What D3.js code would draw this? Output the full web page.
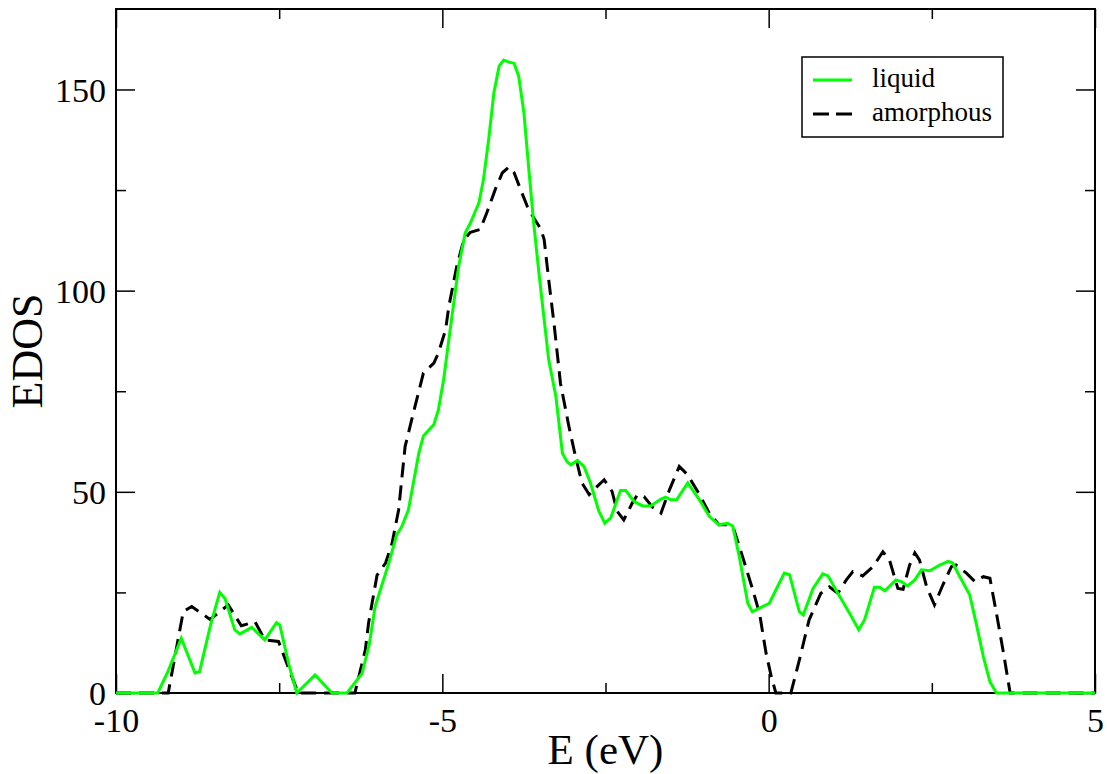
<!DOCTYPE html>
<html>
<head>
<meta charset="utf-8">
<script src="https://cdn.jsdelivr.net/npm/d3@7"></script>
<style>
  body { margin: 0; background: #fff; }
  text { font-family: "Liberation Serif", "Times New Roman", serif; fill: #000; }
  .axis path.domain { display: none; }
  .axis line { stroke: #000; stroke-width: 1.5; }
</style>
</head>
<body>
<script>
/* series: energy (eV) and EDOS */
var liquidE = [-10, -9.36, -9.2, -9.0, -8.79, -8.72, -8.55, -8.41, -8.33, -8.18, -8.10, -7.92,
  -7.72, -7.54, -7.49, -7.35, -7.23, -6.95, -6.69, -6.46, -6.23, -6.12, -6.03, -5.82, -5.70,
  -5.62, -5.52, -5.36, -5.29, -5.13, -5.06, -4.98, -4.88, -4.75, -4.65, -4.57, -4.44, -4.37,
  -4.29, -4.21, -4.13, -4.06, -3.98, -3.90, -3.83, -3.75, -3.67, -3.60, -3.52, -3.44, -3.37,
  -3.26, -3.16, -3.09, -3.03, -2.93, -2.83, -2.73, -2.60, -2.51, -2.42, -2.27, -2.19, -2.06,
  -1.93, -1.81, -1.65, -1.58, -1.50, -1.41, -1.24, -1.06, -0.91, -0.76, -0.63, -0.55, -0.45,
  -0.32, -0.25, -0.14, 0.01, 0.11, 0.24, 0.32, 0.47, 0.53, 0.68, 0.83, 0.91, 1.06, 1.24,
  1.38, 1.47, 1.62, 1.70, 1.78, 1.95, 2.03, 2.13, 2.24, 2.34, 2.47, 2.62, 2.75, 2.82, 2.93,
  3.08, 3.18, 3.29, 3.39, 3.49, 5]
var liquidDOS = [0, 0, 5.5, 13.6, 5.0, 5.3, 17, 25.0, 23.5, 15.7, 14.7, 16.3,
  13.2, 17.5, 16.9, 7, 0, 4.5, 0, 0, 4.9, 12, 21.5, 32.3, 39.3,
  41.4, 45.5, 59.6, 63.9, 66.7, 70.4, 77.9, 90.3, 106, 114.3, 116.8, 121.8, 127.6,
  137.6, 149.2, 155.8, 157.3, 156.8, 156.5, 153.3, 144.2, 129.3, 116.8, 104.4, 92.8, 82.8,
  73.7, 59.6, 57.5, 56.7, 57.8, 56.3, 52.2, 45.1, 42.2, 43.5, 50.3, 50.3, 47.6,
  46.5, 46.5, 48.2, 48.7, 48.0, 48.0, 52.2, 48.0, 43.9, 41.8, 42.2, 41.5, 33.9,
  22.3, 20.2, 21.1, 22.3, 25.6, 29.8, 29.4, 20.2, 19.4, 26.0, 29.6, 29.1, 24.8, 19.8,
  15.7, 18.2, 26.3, 26.3, 25.4, 28.1, 27.7, 26.6, 28.1, 30.6, 30.4, 31.8, 32.7, 32.3, 28.9,
  24.4, 17.3, 9.0, 2.8, 0, 0]

var amorphE = [-10, -9.20, -8.97, -8.84, -8.56, -8.41, -8.28, -8.08, -7.87, -7.72, -7.51, -7.21,
  -6.34, -6.18, -6.13, -6.00, -5.87, -5.77, -5.67, -5.57, -5.47, -5.29, -5.13, -5.06, -4.95,
  -4.90, -4.78, -4.67, -4.57, -4.42, -4.32, -4.19, -4.08, -3.98, -3.90, -3.80, -3.70, -3.60,
  -3.49, -3.44, -3.37, -3.29, -3.19, -3.06, -2.96, -2.86, -2.75, -2.63, -2.52, -2.40, -2.32,
  -2.22, -2.09, -2.01, -1.91, -1.78, -1.65, -1.52, -1.37, -1.24, -1.06, -0.91, -0.76, -0.63,
  -0.53, -0.40, -0.25, -0.14, -0.04, 0.04, 0.11, 0.34, 0.47, 0.62, 0.80, 0.93, 1.06, 1.19,
  1.29, 1.44, 1.60, 1.75, 1.85, 1.98, 2.06, 2.16, 2.24, 2.31, 2.42, 2.54, 2.67, 2.80, 2.87,
  3.03, 3.16, 3.29, 3.39, 3.49, 3.59, 3.70, 5]
var amorphDOS = [0, 0, 20.2, 21.5, 18.3, 20.2, 21.9, 16.7, 17.7, 13.2, 12.8, 0,
  0, 10.7, 17.4, 29.3, 32.3, 37.2, 45.5, 61.3, 67.9, 79.5, 82.0, 84.5, 90.3,
  96.1, 106.0, 112.7, 114.5, 115.2, 119.3, 125.1, 129.3, 130.7, 129.3, 125.1, 121.0, 118.1,
  115.3, 112.7, 102.7, 92.0, 77.0, 66.2, 58.8, 52.2, 49.3, 51.3, 53.0, 50.1, 45.1,
  43.0, 47.2, 49.3, 48.8, 46.2, 44.7, 50.5, 56.3, 54.2, 49.3, 44.7, 41.8, 41.8,
  40.5, 33.9, 26.0, 19.8, 9.9, 4.1, 0, 0, 8.2, 18.2, 24.8, 26.4, 24.8, 28.1,
  30.2, 29.1, 31.4, 35.1, 33.1, 26.0, 25.8, 31.8, 34.8, 33.1, 26.4, 21.9, 26.9, 31.4, 31.8,
  29.8, 27.7, 28.9, 28.5, 19.8, 10.7, 0, 0]

var seriesNames = ["liquid", "amorphous"]
var xMajor = [-10, -5, 0, 5]
var xMinor = [-7.5, -2.5, 2.5]
var yMajor = [0, 50, 100, 150]
var yMinor = [25, 75, 125]


function main()
{
  var vis = {
    width: 1107,
    height: 774,
    margin: {left: 116, top: 9, right: 12, bottom: 81},
    scale: {}
  }
  vis.w = vis.width - vis.margin.left - vis.margin.right
  vis.h = vis.height - vis.margin.top - vis.margin.bottom

  initVis(vis)
  addAxes(vis)
  addLines(vis)
  addLegend(vis)
}


function initVis(vis)
{
  vis.scale.x = d3.scaleLinear()
    .domain([-10, 5])
    .range([0, vis.w])

  vis.scale.y = d3.scaleLinear()
    .domain([0, 170])
    .range([vis.h, 0])

  vis.svg = d3.select("body")
    .append("svg")
    .attr("width", vis.width)
    .attr("height", vis.height)

  vis.g = vis.svg.append("g")
    .attr("transform", "translate(" + vis.margin.left + "," + vis.margin.top + ")")
}


function addAxes(vis)
{
  var g = vis.g
  var fmt = function(d) { return String(d) }

  /* major ticks with labels (bottom, left) */
  g.append("g")
    .attr("class", "axis")
    .attr("transform", "translate(0," + vis.h + ")")
    .call(d3.axisBottom(vis.scale.x).tickValues(xMajor).tickSize(-19).tickFormat(fmt))
    .selectAll("text")
    .attr("y", 39)
    .attr("dy", 0)
    .style("font-size", "34px")

  g.append("g")
    .attr("class", "axis")
    .call(d3.axisLeft(vis.scale.y).tickValues(yMajor).tickSize(-19).tickFormat(fmt))
    .selectAll("text")
    .attr("x", -10)
    .attr("dy", "0.34em")
    .style("font-size", "34px")

  /* mirrored major ticks, no labels (top, right) */
  g.append("g")
    .attr("class", "axis")
    .call(d3.axisTop(vis.scale.x).tickValues(xMajor).tickSize(-19).tickFormat(""))

  g.append("g")
    .attr("class", "axis")
    .attr("transform", "translate(" + vis.w + ",0)")
    .call(d3.axisRight(vis.scale.y).tickValues(yMajor).tickSize(-19).tickFormat(""))

  /* minor ticks on all four sides */
  g.append("g").attr("class", "axis")
    .attr("transform", "translate(0," + vis.h + ")")
    .call(d3.axisBottom(vis.scale.x).tickValues(xMinor).tickSize(-10).tickFormat(""))
  g.append("g").attr("class", "axis")
    .call(d3.axisTop(vis.scale.x).tickValues(xMinor).tickSize(-10).tickFormat(""))
  g.append("g").attr("class", "axis")
    .call(d3.axisLeft(vis.scale.y).tickValues(yMinor).tickSize(-10).tickFormat(""))
  g.append("g").attr("class", "axis")
    .attr("transform", "translate(" + vis.w + ",0)")
    .call(d3.axisRight(vis.scale.y).tickValues(yMinor).tickSize(-10).tickFormat(""))

  /* frame */
  g.append("rect")
    .attr("width", vis.w)
    .attr("height", vis.h)
    .attr("fill", "none")
    .attr("stroke", "#000")
    .attr("stroke-width", 2)

  /* axis titles */
  g.append("text")
    .attr("x", vis.w / 2)
    .attr("y", vis.h + 71)
    .attr("text-anchor", "middle")
    .style("font-size", "43px")
    .text("E (eV)")

  g.append("text")
    .attr("transform", "translate(-74," + (vis.h / 2) + ") rotate(-90)")
    .attr("text-anchor", "middle")
    .style("font-size", "44px")
    .text("EDOS")
}


function addLines(vis)
{
  var line = d3.line()
    .x(function(d) { return vis.scale.x(d[0]) })
    .y(function(d) { return vis.scale.y(d[1]) })

  var amorph = d3.zip(amorphE, amorphDOS)
  var liquid = d3.zip(liquidE, liquidDOS)

  vis.g.append("path")
    .datum(amorph)
    .attr("d", line)
    .attr("fill", "none")
    .attr("stroke", "#000")
    .attr("stroke-width", 3)
    .attr("stroke-dasharray", "15,8")

  vis.g.append("path")
    .datum(liquid)
    .attr("d", line)
    .attr("fill", "none")
    .attr("stroke", "#00ff00")
    .attr("stroke-width", 3)
}


function addLegend(vis)
{
  var lg = vis.svg.append("g")
    .attr("transform", "translate(802,57)")

  lg.append("rect")
    .attr("width", 201)
    .attr("height", 80)
    .attr("fill", "#fff")
    .attr("stroke", "#000")
    .attr("stroke-width", 1.5)

  var styles = [{color: "#00ff00", dash: null}, {color: "#000", dash: "16,7"}]

  seriesNames.forEach(function(name, i)
  {
    var y = 23 + i * 34
    lg.append("line")
      .attr("x1", 11)
      .attr("x2", 50)
      .attr("y1", y)
      .attr("y2", y)
      .attr("stroke", styles[i].color)
      .attr("stroke-width", 3)
      .attr("stroke-dasharray", styles[i].dash)

    lg.append("text")
      .attr("x", 70)
      .attr("y", y + 7)
      .style("font-size", "27px")
      .text(name)
  })
}

main()
</script>
</body>
</html>
